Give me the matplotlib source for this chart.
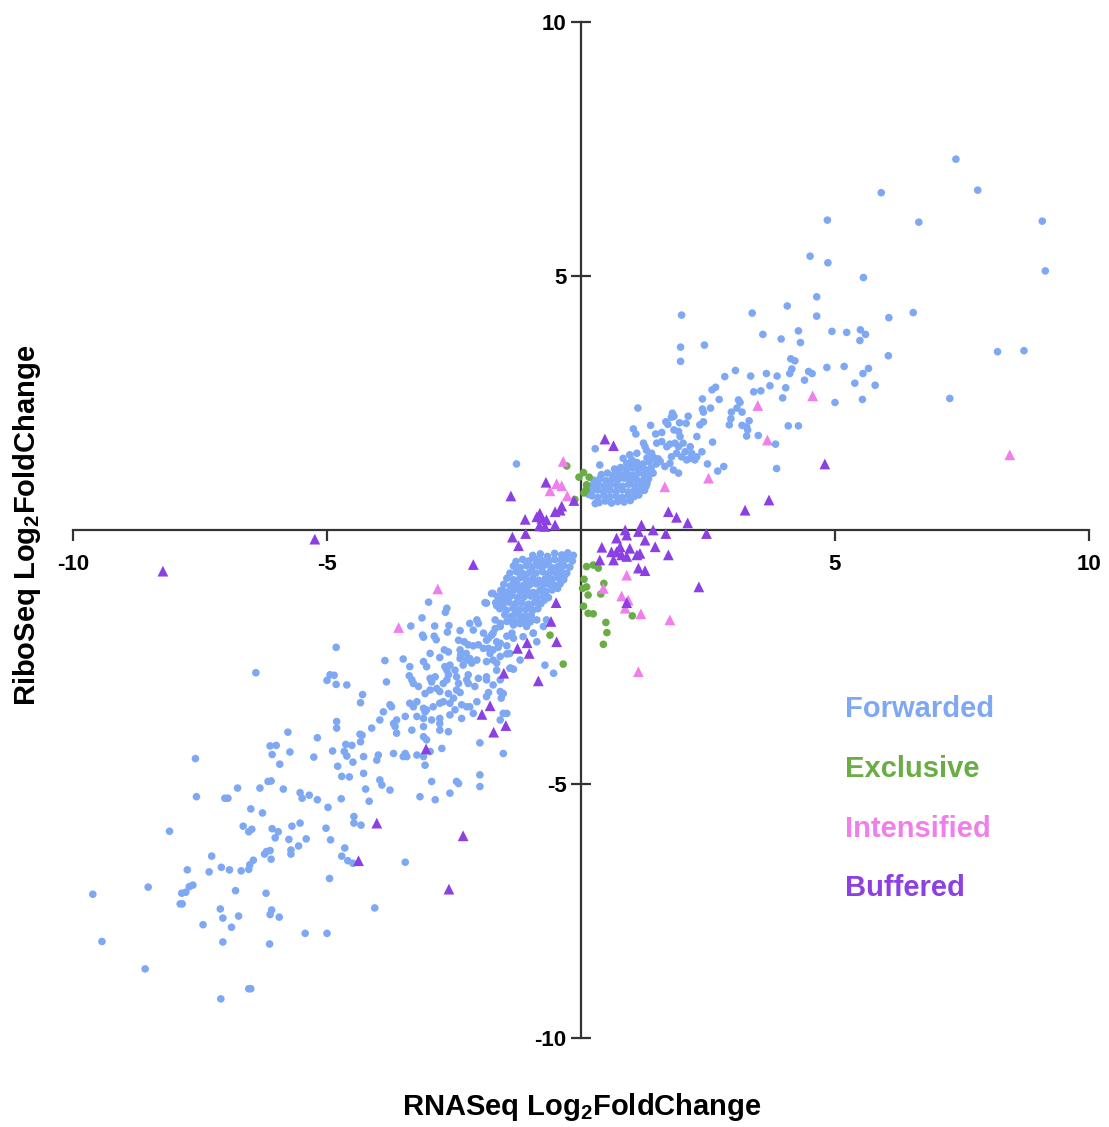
import matplotlib
matplotlib.use("Agg")
import matplotlib.pyplot as plt

FAM = ['Liberation Sans', 'DejaVu Sans']
plt.rcParams['font.family'] = FAM
plt.rcParams['mathtext.fontset'] = 'custom'
plt.rcParams['mathtext.rm'] = 'Liberation Sans'
plt.rcParams['mathtext.bf'] = 'Liberation Sans:bold'

# ---------------- data (log2 fold changes) ----------------
# Forwarded: sparse lower-left tail
fwd_tail_x = [-7.57,-7.01,-6.95,-6.76,-6.32,-6.16,-6.10,-5.86,-5.53,-5.49,-5.35,-6.50,-6.27,-8.10,-6.65,-6.54,-6.48,-6.08,-5.96,-6.02,
              -5.69,-5.53,-5.75,-5.41,-5.56,-5.71,-5.71,-6.23,-6.19,-6.12,-6.10,-6.45,-7.27,-6.52,-6.54,-6.69,-6.92,-7.08,-7.32,-7.75,
              -8.52,-9.61,-7.86,-7.78,-7.71,-7.64,-7.89,-7.85,-6.80,-6.20,-7.10,-7.05,-6.74,-6.88,-7.44,-6.09,-6.12,-5.94,-5.43,-9.43,
              -7.05,-6.13,-8.58,-6.54,-6.50,-7.09,-4.06,-3.46,-5.00]
fwd_tail_y = [-5.25,-5.28,-5.28,-5.08,-5.08,-4.95,-4.94,-5.10,-5.17,-5.28,-5.22,-5.49,-5.57,-5.93,-5.83,-5.94,-5.89,-5.88,-5.94,-6.06,
              -5.83,-5.77,-6.09,-6.08,-6.22,-6.30,-6.38,-6.38,-6.33,-6.31,-6.48,-6.50,-6.42,-6.59,-6.68,-6.71,-6.69,-6.64,-6.73,-6.69,
              -7.03,-7.17,-7.15,-7.13,-7.02,-6.99,-7.36,-7.36,-7.10,-7.15,-7.46,-7.64,-7.60,-7.82,-7.77,-7.48,-7.57,-7.62,-7.94,-8.10,
              -8.11,-8.15,-8.64,-9.03,-9.03,-9.23,-7.44,-6.54,-7.94]

fwd_mid_x = [-4.82,-6.40,-4.94,-4.86,-5.00,-4.82,-4.61,-4.30,-4.34,-4.81,-4.81,-5.77,-5.19,-4.35,-4.31,-4.34,-4.63,-4.51,-6.12,-6.00,
             -6.08,-5.73,-4.89,-4.66,-4.61,-5.26,-4.28,-4.49,-7.59,-5.93,-4.79,-4.71,-4.56,-4.28,-5.19,-4.98,-4.72,-4.24,-4.17,-4.47,
             -4.47,-4.33,-5.02,-4.93,-4.65,-4.71,-4.59,-4.49,-4.95]
fwd_mid_y = [-2.31,-2.81,-2.85,-2.86,-2.96,-3.04,-3.05,-3.24,-3.40,-3.77,-3.90,-3.98,-4.09,-4.02,-4.04,-4.17,-4.22,-4.24,-4.25,-4.24,
             -4.42,-4.37,-4.35,-4.36,-4.45,-4.47,-4.46,-4.57,-4.50,-4.61,-4.65,-4.85,-4.86,-4.79,-5.31,-5.46,-5.29,-5.10,-5.34,-5.64,
             -5.77,-5.81,-5.87,-6.10,-6.26,-6.42,-6.51,-6.56,-6.86]

fwd_band_x = [-3.00,-2.64,-2.67,-3.13,-3.35,-2.88,-2.60,-1.86,-1.66,-1.73,-1.59,-1.53,-3.12,-3.10,-2.89,-2.85,-2.63,-2.38,-2.19,-2.05,
              -2.02,-2.12,-1.92,-1.82,-1.76,-1.69,-1.59,-1.46,-1.33,-1.20,-1.07,-0.94,-0.87,-1.46,-1.66,-2.41,-2.30,-2.22,-2.12,-2.02,
              -1.92,-1.82,-1.73,-1.63,-1.46,-1.33,-2.69,-2.61,-2.38,-2.37,-2.26,-2.19,-2.05,-2.25,-2.15,-2.32,-2.38,-2.78,-2.97,-3.10,
              -3.50,-3.86,-3.37,-3.04,-2.58,-2.48,-1.86,-1.73,-1.59,-1.46,-1.38,-1.33,-1.66,-3.38,-3.33,-3.30,-2.97,-2.87,-2.94,-2.68,
              -2.64,-2.61,-2.64,-2.71,-2.45,-2.41,-2.25,-2.22,-2.02,-1.86,-1.73,-1.59,-2.09,-3.83,-3.20,-3.07,-2.84,-2.97,-2.78,-2.61,
              -2.45,-2.38,-2.22,-1.82,-1.59,-1.53,-3.76,-3.73,-3.89,-3.37,-3.30,-3.23,-3.10,-3.07,-3.04,-2.91,-2.78,-2.71,-2.58,-2.51,
              -2.35,-2.25,-2.19,-2.05,-1.86,-1.57,-3.96,-3.63,-3.69,-3.46,-3.23,-3.10,-2.94,-2.78,-2.58,-2.48,-2.35,-2.12,-1.53,-1.46,
              -1.59,-4.12,-3.66,-3.63,-3.33,-3.10,-2.78,-2.61,-3.10,-3.04,-2.78,-1.99,-1.53,-3.99,-4.02,-3.69,-3.46,-3.50,-3.43,-3.23,
              -3.10,-2.97,-2.74,-3.07,-3.96,-3.92,-3.76,-2.94,-2.45,-2.41,-3.17,-2.87,-2.58,-1.99,-1.99]
fwd_band_y = [-1.42,-1.54,-1.62,-1.73,-1.89,-1.89,-1.88,-1.44,-1.49,-1.25,-1.31,-1.21,-2.07,-2.11,-2.09,-2.16,-2.01,-1.98,-1.84,-1.77,
              -1.84,-1.97,-2.03,-2.13,-2.07,-1.94,-1.90,-1.80,-1.87,-1.84,-1.90,-2.03,-2.20,-2.09,-2.20,-2.17,-2.20,-2.26,-2.28,-2.26,
              -2.33,-2.33,-2.36,-2.31,-2.28,-2.13,-2.36,-2.40,-2.36,-2.46,-2.43,-2.53,-2.56,-2.56,-2.62,-2.66,-2.53,-2.51,-2.43,-2.59,
              -2.54,-2.57,-2.69,-2.69,-2.66,-2.76,-2.59,-2.56,-2.49,-2.44,-2.72,-2.74,-2.76,-2.87,-2.95,-3.02,-2.92,-2.89,-2.99,-2.69,
              -2.76,-2.85,-2.95,-3.02,-2.89,-3.02,-2.95,-2.85,-2.92,-2.95,-3.05,-2.95,-3.08,-2.99,-3.08,-3.22,-3.12,-3.15,-3.18,-3.22,
              -3.15,-3.20,-3.02,-3.20,-3.18,-3.22,-3.44,-3.48,-3.58,-3.41,-3.48,-3.38,-3.51,-3.58,-3.54,-3.48,-3.41,-3.38,-3.41,-3.31,
              -3.44,-3.48,-3.48,-3.38,-3.28,-3.31,-3.74,-3.74,-3.81,-3.67,-3.67,-3.71,-3.74,-3.71,-3.64,-3.54,-3.71,-3.61,-3.61,-3.61,
              -3.74,-3.90,-3.87,-4.00,-3.94,-3.87,-3.81,-3.97,-4.07,-4.13,-3.94,-4.19,-4.40,-4.43,-4.53,-4.40,-4.40,-4.46,-4.46,-4.43,
              -4.46,-4.36,-4.30,-4.63,-4.92,-5.02,-5.12,-4.95,-4.95,-4.99,-5.25,-5.31,-5.18,-4.82,-5.05]

fwd_near_x = [-1.89,-1.76,-1.59,-1.46,-1.33,-1.69,-1.73,-1.86,-1.59,-1.36,-1.40,-1.14,-0.94,-0.74,-0.68,-0.87,-1.20,-1.07,-1.33,-1.59,
              -1.79,-1.66,-1.40,-1.86,-0.71,-1.20,-0.54,-1.27]
fwd_near_y = [-1.43,-1.25,-1.38,-1.25,-1.12,-1.77,-2.03,-2.17,-2.23,-2.03,-2.43,-2.10,-2.03,-1.90,-1.77,-1.77,-1.84,-1.71,-1.77,-1.84,
              -2.43,-2.62,-2.72,-2.89,-2.66,-2.56,-2.82,1.30]

# dense lower cluster
fwd_low_x = [-0.95,-0.80,-0.66,-0.52,-0.38,-0.26,-0.15,
             -1.28,-1.15,-1.03,-0.90,-0.78,-0.64,-0.52,-0.40,-0.28,-0.17,
             -1.33,-1.20,-1.08,-0.96,-0.83,-0.71,-0.58,-0.46,-0.34,-0.22,
             -1.40,-1.27,-1.14,-1.01,-0.89,-0.76,-0.64,-0.51,-0.39,-0.28,
             -1.46,-1.33,-1.20,-1.08,-0.95,-0.83,-0.70,-0.57,-0.45,-0.34,
             -1.52,-1.39,-1.26,-1.13,-1.01,-0.88,-0.76,-0.63,-0.51,-0.41,
             -1.58,-1.45,-1.32,-1.19,-1.06,-0.94,-0.81,-0.69,-0.57,
             -1.64,-1.51,-1.38,-1.25,-1.12,-0.99,-0.87,-0.75,-0.64,
             -1.68,-1.55,-1.42,-1.29,-1.16,-1.03,-0.91,-0.79,
             -1.60,-1.47,-1.34,-1.21,-1.08,-0.95,-0.85,
             -1.50,-1.37,-1.24,-1.11,-0.98,
             -1.38,-1.25,-1.12,-1.00,
             -0.88,-0.59,-0.33,-1.09,-0.70,-1.22,-0.46,-1.36,-0.90,-1.48,-1.00,-1.28,-0.72,-1.54,-1.18]
fwd_low_y = [-0.50,-0.47,-0.52,-0.46,-0.49,-0.45,-0.50,
             -0.62,-0.58,-0.61,-0.57,-0.60,-0.62,-0.58,-0.60,-0.57,-0.61,
             -0.71,-0.74,-0.70,-0.73,-0.71,-0.69,-0.74,-0.72,-0.70,-0.73,
             -0.85,-0.82,-0.86,-0.83,-0.85,-0.82,-0.86,-0.84,-0.82,-0.85,
             -0.95,-0.98,-0.94,-0.97,-0.96,-0.99,-0.95,-0.97,-0.94,-0.98,
             -1.07,-1.10,-1.06,-1.09,-1.08,-1.06,-1.10,-1.07,-1.09,-1.06,
             -1.19,-1.22,-1.18,-1.21,-1.20,-1.23,-1.19,-1.21,-1.18,
             -1.31,-1.34,-1.30,-1.33,-1.32,-1.30,-1.34,-1.31,-1.33,
             -1.43,-1.46,-1.42,-1.45,-1.44,-1.46,-1.42,-1.45,
             -1.55,-1.58,-1.54,-1.57,-1.56,-1.58,-1.55,
             -1.67,-1.70,-1.66,-1.69,-1.68,
             -1.79,-1.82,-1.78,-1.81,
             -0.66,-0.79,-0.91,-0.90,-1.02,-1.14,-1.15,-1.25,-1.27,-1.38,-1.50,-1.62,-1.38,-1.50,-1.74]

# dense upper cluster
fwd_up_x = [0.36,0.48,0.60,0.72,0.85,0.97,
            0.22,0.33,0.45,0.57,0.69,0.81,0.93,1.05,1.14,
            0.21,0.33,0.45,0.57,0.69,0.81,0.93,1.05,1.17,
            0.22,0.34,0.46,0.58,0.70,0.82,0.94,1.06,1.18,1.28,
            0.25,0.37,0.49,0.61,0.73,0.85,0.97,1.09,1.21,1.33,
            0.40,0.52,0.64,0.76,0.88,1.00,1.12,1.24,1.36,
            0.66,0.78,0.90,1.02,1.14,1.26,1.38,
            0.98,1.10,1.22,1.34,
            1.48,1.52,1.44,1.30,1.42,1.25,1.30,0.28,0.15,0.16]
fwd_up_y = [0.54,0.57,0.53,0.56,0.55,0.58,
            0.67,0.64,0.68,0.65,0.67,0.64,0.68,0.66,0.69,
            0.76,0.79,0.75,0.78,0.76,0.79,0.75,0.78,0.77,
            0.87,0.90,0.86,0.89,0.88,0.86,0.90,0.87,0.89,0.86,
            0.98,1.01,0.97,1.00,0.99,1.02,0.98,1.00,0.97,1.01,
            1.09,1.12,1.08,1.11,1.10,1.08,1.12,1.09,1.11,
            1.20,1.23,1.19,1.22,1.21,1.19,1.22,
            1.31,1.33,1.30,1.34,
            1.30,1.40,1.42,1.42,1.12,0.78,0.92,0.52,0.70,0.84]

fwd_ur_x = [1.98,1.96,1.96,2.43,3.37,4.06,4.64,4.64,3.58,3.94,4.28,4.32,4.84,4.13,4.21,4.15,4.11,4.48,4.55,4.40,
            3.04,2.83,3.34,3.65,3.86,3.72,4.03,3.97,3.54,3.40,2.58,2.65,2.39,2.72,3.10,3.13,2.39,2.41,2.55,3.07,
            2.96,3.17,2.95,2.92,3.17,3.26,3.31,3.28,3.26,3.49,3.83,4.08,4.28,3.85,2.81,2.69,2.49,2.59,2.41,2.34,
            2.11,2.07,1.94,1.80,1.83,1.78,1.67,1.71,1.37,1.47,1.59,1.83,1.95,1.92,2.28,1.03,1.08,1.12,1.23,1.26,
            0.28,0.37,1.49,1.59,1.69,1.75,1.85,1.92,2.01,2.15,2.05,2.18,2.15,2.28,2.38,1.88,1.78,1.98,2.08,2.24,
            1.10,0.96,0.83,1.00,0.90,1.75,1.82,1.92,1.65,1.56,1.29,1.39,
            7.38,5.91,7.81,4.85,6.65,9.08,9.14,4.51,4.86,5.56,6.06,6.54,4.94,5.23,5.50,5.60,5.49,6.05,5.18,5.66,
            5.55,5.39,5.79,5.00,5.54,7.26,8.20,8.72]
fwd_ur_y = [4.23,3.60,3.32,3.64,4.27,4.41,4.59,4.21,3.85,3.76,3.92,3.69,3.20,3.37,3.33,3.17,3.08,3.12,3.08,2.95,
            3.14,3.02,3.03,3.08,3.03,2.84,2.80,2.60,2.74,2.72,2.76,2.81,2.58,2.57,2.56,2.51,2.38,2.32,2.40,2.40,
            2.32,2.32,2.19,2.07,2.06,2.03,2.15,1.97,1.85,1.86,1.69,2.05,2.05,1.21,1.25,1.16,1.30,1.73,2.13,2.07,
            2.24,2.10,2.11,2.30,2.24,2.22,2.13,2.08,2.06,1.89,1.92,1.97,1.84,1.94,1.84,1.99,1.89,2.40,1.71,1.64,
            1.60,1.28,1.71,1.74,1.64,1.69,1.71,1.64,1.71,1.64,1.54,1.51,1.41,1.44,1.54,1.51,1.44,1.44,1.38,1.38,
            1.51,1.48,1.41,1.38,1.31,1.31,1.18,1.12,1.25,1.35,1.57,1.51,
            7.30,6.64,6.69,6.10,6.06,6.08,5.10,5.39,5.26,4.97,4.18,4.28,3.91,3.89,3.94,3.85,3.73,3.43,3.22,3.18,
            3.08,2.89,2.85,2.51,2.57,2.59,3.51,3.53]

# Exclusive
exc_x = [-0.28,-0.04,0.05,0.16,0.11,0.10,0.06,-0.12,0.11,0.24,0.34,0.06,0.11,0.03,0.14,0.45,0.39,0.05,0.14,0.24,
         0.49,0.51,0.44,1.01,-0.61,-0.35]
exc_y = [1.26,1.04,1.13,1.04,0.89,0.79,0.73,0.60,-0.72,-0.69,-0.75,-0.97,-1.12,-1.15,-1.28,-1.05,-1.26,-1.50,-1.64,-1.65,
         -1.82,-2.02,-2.25,-1.69,-2.07,-2.64]

# Intensified
int_x = [-0.35,-0.48,-0.61,-0.38,-0.27,1.65,2.51,0.90,0.44,0.80,0.93,0.87,1.18,1.75,1.13,-2.82,-3.59,3.48,4.56,3.67,8.44]
int_y = [1.35,0.91,0.77,0.87,0.67,0.85,1.02,-0.89,-1.15,-1.30,-1.38,-1.54,-1.65,-1.77,-2.79,-1.16,-1.92,2.45,2.64,1.77,1.48]

# Buffered
buf_x = [0.47,0.64,-0.69,-1.38,-0.14,-0.38,-0.41,-0.51,-0.81,-0.87,-0.77,-0.68,-0.82,-0.71,-0.51,-1.10,-1.09,-1.35,-1.23,
         0.87,0.90,1.19,1.13,1.42,1.67,2.47,1.72,1.88,2.10,0.70,0.41,1.26,1.46,0.96,0.77,0.60,0.70,0.80,0.90,0.64,0.37,
         1.10,1.16,1.72,1.13,1.26,2.32,0.90,-0.49,-0.59,-0.48,-1.25,-1.02,-1.06,-1.52,-0.84,-1.79,-1.95,-1.48,-1.72,-3.05,
         -2.12,-8.23,-5.24,3.23,3.70,4.80,-4.02,-4.38,-2.32,-2.60]
buf_y = [1.79,1.66,0.94,0.67,0.58,0.47,0.39,0.36,0.33,0.26,0.23,0.20,0.08,0.07,0.10,0.21,-0.07,-0.14,-0.31,
         0.00,-0.10,0.10,-0.03,0.00,-0.07,-0.07,0.36,0.25,0.14,-0.16,-0.34,-0.20,-0.33,-0.36,-0.33,-0.43,-0.43,-0.49,-0.52,-0.59,-0.59,
         -0.49,-0.46,-0.49,-0.75,-0.80,-1.12,-1.43,-1.43,-1.80,-2.20,-2.33,-2.43,-2.22,-2.82,-2.97,-3.46,-3.63,-3.85,-3.98,-4.31,
         -0.68,-0.81,-0.18,0.39,0.59,1.30,-5.77,-6.51,-6.02,-7.07]

legend_labels = ["Forwarded", "Exclusive", "Intensified", "Buffered"]
colors = ["#7EA8F3", "#6AAD45", "#F07EEB", "#8C3FE3"]
ticks = [-10, -5, 5, 10]

fwd_x = fwd_tail_x + fwd_mid_x + fwd_band_x + fwd_near_x + fwd_low_x + fwd_up_x + fwd_ur_x
fwd_y = fwd_tail_y + fwd_mid_y + fwd_band_y + fwd_near_y + fwd_low_y + fwd_up_y + fwd_ur_y

# ---------------- figure ----------------
W, H = 1109, 1127
fig = plt.figure(figsize=(W / 100, H / 100), dpi=100)
ax = fig.add_axes([73 / W, 1 - 1038 / H, (1089 - 73) / W, (1038 - 22) / H])
ax.set_xlim(-10, 10)
ax.set_ylim(-10, 10)

ax.scatter(fwd_x, fwd_y, s=30, c=colors[0], edgecolors='none', zorder=2)
ax.scatter(exc_x, exc_y, s=30, c=colors[1], edgecolors='none', zorder=3)
ax.scatter(int_x, int_y, s=60, marker='^', c=colors[2], edgecolors='none', zorder=4)
ax.scatter(buf_x, buf_y, s=60, marker='^', c=colors[3], edgecolors='none', zorder=5)

axc = '#333333'
for s in ['right', 'top']:
    ax.spines[s].set_visible(False)
for s in ['left', 'bottom']:
    ax.spines[s].set_position(('data', 0))
    ax.spines[s].set_color(axc)
    ax.spines[s].set_linewidth(1.6)
    ax.spines[s].set_zorder(1)

ax.set_xticks(ticks)
ax.set_yticks(ticks)
ax.set_xticklabels([str(t) for t in ticks], fontsize=16, fontweight='bold')
ax.set_yticklabels([str(t) for t in ticks], fontsize=16, fontweight='bold')
ax.tick_params(axis='x', direction='out', length=8, width=1.6, color=axc, pad=9)
ax.tick_params(axis='y', direction='inout', length=15, width=1.6, color=axc, pad=3)

legend_y = [-3.52, -4.70, -5.89, -7.05]
for lab, col, ly in zip(legend_labels, colors, legend_y):
    ax.text(5.2, ly, lab, color=col, fontsize=21, fontweight='bold', ha='left', va='center')

fig.text(582 / W, 1 - 1107 / H, r"RNASeq Log$_{\mathbf{2}}$FoldChange", fontsize=21, fontweight='bold',
         ha='center', va='center')
fig.text(27 / W, 1 - 525 / H, r"RiboSeq Log$_{\mathbf{2}}$FoldChange", fontsize=21, fontweight='bold',
         ha='center', va='center', rotation=90)

fig.savefig("out.png", dpi=100)
